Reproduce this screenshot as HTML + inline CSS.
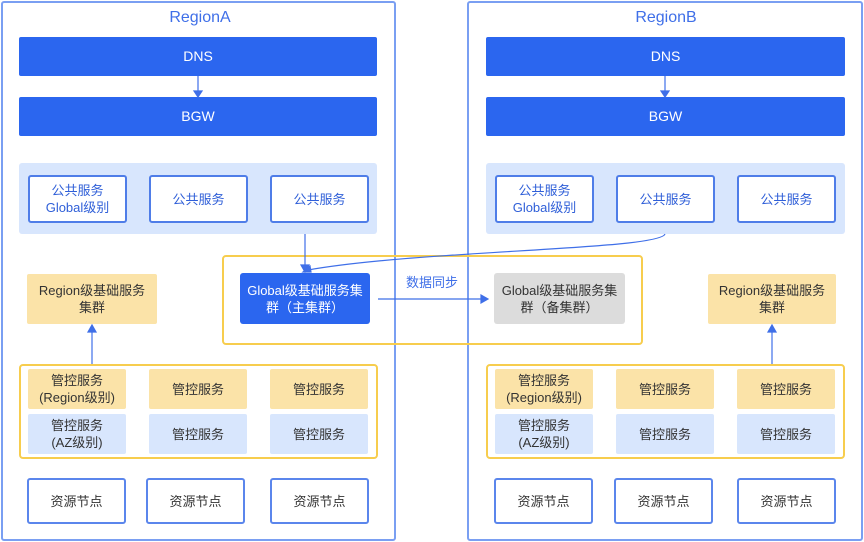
<!DOCTYPE html>
<html><head><meta charset="utf-8"><style>
body{margin:0;width:864px;height:542px;background:#fff;position:relative;overflow:hidden;font-family:"Liberation Sans","Noto Sans CJK SC",sans-serif;}
.a{position:absolute;box-sizing:border-box;display:flex;align-items:center;justify-content:center;text-align:center;font-size:13px;line-height:17px;}
.reg{border:2px solid #7a9ff2;border-radius:3px;}
.t{color:#3f6fe8;font-size:16px;}
.bar{background:#2b66ef;color:#fff;border-radius:2px;font-size:14px;}
.pan{background:#d8e6fd;border-radius:3px;}
.pub{background:#fff;border:2px solid #4f7de8;border-radius:3px;color:#2f5fd8;}
.yb{border:2px solid #f7cd4e;border-radius:4px;}
.tan{background:#fbe3a8;border-radius:2px;color:#333;}
.lb{background:#d8e6fd;border-radius:2px;color:#333;}
.res{background:#fff;border:2px solid #5b86ec;border-radius:3px;color:#333;}
</style></head><body>
<div class="a reg" style="left:1px;top:1px;width:395px;height:540px"></div>
<div class="a reg" style="left:467px;top:1px;width:396px;height:540px"></div>
<div class="a t" style="left:100px;top:6px;width:200px;height:22px">RegionA</div>
<div class="a t" style="left:566px;top:6px;width:200px;height:22px">RegionB</div>

<div class="a bar" style="left:19px;top:37px;width:358px;height:39px">DNS</div>
<div class="a bar" style="left:19px;top:97px;width:358px;height:39px">BGW</div>
<div class="a bar" style="left:486px;top:37px;width:359px;height:39px">DNS</div>
<div class="a bar" style="left:486px;top:97px;width:359px;height:39px">BGW</div>

<div class="a pan" style="left:19px;top:163px;width:358px;height:71px"></div>
<div class="a pan" style="left:486px;top:163px;width:359px;height:71px"></div>
<div class="a pub" style="left:28px;top:175px;width:99px;height:48px">公共服务<br>Global级别</div>
<div class="a pub" style="left:149px;top:175px;width:99px;height:48px">公共服务</div>
<div class="a pub" style="left:270px;top:175px;width:99px;height:48px">公共服务</div>
<div class="a pub" style="left:495px;top:175px;width:99px;height:48px">公共服务<br>Global级别</div>
<div class="a pub" style="left:616px;top:175px;width:99px;height:48px">公共服务</div>
<div class="a pub" style="left:737px;top:175px;width:99px;height:48px">公共服务</div>

<div class="a yb" style="left:222px;top:255px;width:421px;height:90px"></div>
<div class="a" style="left:240px;top:273px;width:130px;height:51px;background:#2b66ef;color:#fff;border-radius:3px">Global级基础服务集<br>群（主集群）</div>
<div class="a" style="left:494px;top:273px;width:131px;height:51px;background:#dcdcdc;color:#333;border-radius:3px">Global级基础服务集<br>群（备集群）</div>
<div class="a" style="left:27px;top:274px;width:130px;height:50px;background:#fbe3a8;color:#333;border-radius:2px">Region级基础服务<br>集群</div>
<div class="a" style="left:708px;top:274px;width:128px;height:50px;background:#fbe3a8;color:#333;border-radius:2px">Region级基础服务<br>集群</div>
<div class="a" style="left:396px;top:273px;width:72px;height:18px;color:#3f6fe8">数据同步</div>

<div class="a yb" style="left:19px;top:364px;width:359px;height:95px"></div>
<div class="a yb" style="left:486px;top:364px;width:359px;height:95px"></div>

<div class="a tan" style="left:28px;top:369px;width:98px;height:40px">管控服务<br>(Region级别)</div>
<div class="a tan" style="left:149px;top:369px;width:98px;height:40px">管控服务</div>
<div class="a tan" style="left:270px;top:369px;width:98px;height:40px">管控服务</div>
<div class="a lb" style="left:28px;top:414px;width:98px;height:40px">管控服务<br>(AZ级别)</div>
<div class="a lb" style="left:149px;top:414px;width:98px;height:40px">管控服务</div>
<div class="a lb" style="left:270px;top:414px;width:98px;height:40px">管控服务</div>
<div class="a tan" style="left:495px;top:369px;width:98px;height:40px">管控服务<br>(Region级别)</div>
<div class="a tan" style="left:616px;top:369px;width:98px;height:40px">管控服务</div>
<div class="a tan" style="left:737px;top:369px;width:98px;height:40px">管控服务</div>
<div class="a lb" style="left:495px;top:414px;width:98px;height:40px">管控服务<br>(AZ级别)</div>
<div class="a lb" style="left:616px;top:414px;width:98px;height:40px">管控服务</div>
<div class="a lb" style="left:737px;top:414px;width:98px;height:40px">管控服务</div>

<div class="a res" style="left:27px;top:478px;width:99px;height:46px">资源节点</div>
<div class="a res" style="left:146px;top:478px;width:99px;height:46px">资源节点</div>
<div class="a res" style="left:270px;top:478px;width:99px;height:46px">资源节点</div>
<div class="a res" style="left:494px;top:478px;width:99px;height:46px">资源节点</div>
<div class="a res" style="left:614px;top:478px;width:99px;height:46px">资源节点</div>
<div class="a res" style="left:737px;top:478px;width:99px;height:46px">资源节点</div>

<svg width="864" height="542" style="position:absolute;left:0;top:0" fill="none" stroke="#3f6fe8" stroke-width="1.2">
<line x1="198" y1="76" x2="198" y2="92"/><path d="M194,91 L202,91 L198,97Z" fill="#3f6fe8"/>
<line x1="665" y1="76" x2="665" y2="92"/><path d="M661,91 L669,91 L665,97Z" fill="#3f6fe8"/>
<line x1="305" y1="234" x2="305" y2="266"/><path d="M301,265 L309,265 L305,272Z" fill="#3f6fe8"/>
<path d="M665,234 C660,250 420,250 308,270"/><path d="M303,272 L310,266 L311,272Z" fill="#3f6fe8"/>
<line x1="378" y1="299" x2="482" y2="299"/><path d="M481,295 L488,299 L481,303Z" fill="#3f6fe8"/>
<line x1="92" y1="364" x2="92" y2="331"/><path d="M88,332 L96,332 L92,325Z" fill="#3f6fe8"/>
<line x1="772" y1="364" x2="772" y2="331"/><path d="M768,332 L776,332 L772,325Z" fill="#3f6fe8"/>
</svg>
</body></html>
